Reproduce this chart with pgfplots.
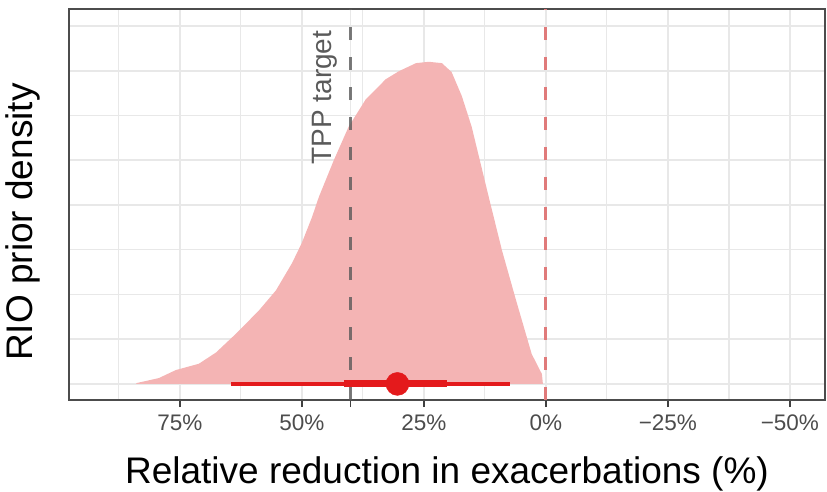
\documentclass[border=0pt]{standalone}
\usepackage{pgfplots}
\pgfplotsset{compat=1.18}
\usepackage{fontspec}
\setmainfont{Liberation Sans}
\definecolor{densfill}{HTML}{F4B4B4}
\definecolor{intred}{HTML}{E41A1C}
\definecolor{zeroline}{HTML}{E07A7A}
\definecolor{gridc}{HTML}{E8E8E8}
\definecolor{tpptext}{HTML}{5A5A5A}
\begin{document}
\begin{tikzpicture}
\begin{axis}[
  scale only axis, width=756pt, height=391pt,
  x dir=reverse,
  xmin=-57.2, xmax=97.7, ymin=-0.36, ymax=8.38,
  axis line style={draw=black!70, line width=1.5pt},
  tick pos=left,
  xtick={-50,-25,0,25,40,50,75},
  xticklabels={−50\%,−25\%,0\%,25\%,{},50\%,75\%},
  minor xtick={-37.5,-12.5,12.5,37.5,62.5,87.5},
  ytick={0,1,2,3,4,5,6,7,8}, yticklabels={},
  grid=both,
  major grid style={draw=gridc, line width=1.6pt},
  minor grid style={draw=gridc, line width=1.3pt},
  tick align=outside,
  major tick length=7pt, minor tick length=0pt,
  xtick style={draw=black!75, line width=1.5pt},
  ytick style={draw=none},
  xticklabel style={font=\fontsize{22.5}{24}\selectfont, text=black!70, inner sep=0pt, yshift=-8pt},
  xlabel={Relative reduction in exacerbations (\%)},
  xlabel style={font=\fontsize{37}{39}\selectfont, at={(axis description cs:0.5,0)}, anchor=base, yshift=-83pt, inner sep=0pt},
  ylabel={RIO prior density},
  ylabel style={font=\fontsize{37}{39}\selectfont, at={(axis description cs:-0.0476,0.455)}, anchor=base, inner sep=0pt},
]
\addplot[fill=densfill, draw=none] coordinates {
(84.0,0) (83.8,0.02) (79.3,0.13) (75.8,0.31) (71.1,0.45) (67.6,0.70) (63.5,1.12)
(58.8,1.64) (55.3,2.09) (52.0,2.70) (50.0,3.15) (47.9,3.73) (46.5,4.18)
(43.4,5.01) (40.4,5.75) (36.9,6.36) (32.8,6.81) (30.1,6.99) (26.6,7.17)
(24.0,7.20) (21.3,7.17) (19.3,6.97) (17.2,6.43) (15.2,5.75) (11.7,4.18)
(9.0,2.99) (6.1,1.87) (4.1,1.12) (2.9,0.67) (0.8,0.22) (0.6,0)
} \closedcycle;
\addplot[draw=black!65, opacity=0.8, line width=2.8pt, dash pattern=on 13pt off 17pt] coordinates {(40,-0.36) (40,8.38)};
\addplot[draw=zeroline, line width=2.8pt, dash pattern=on 13pt off 17pt] coordinates {(0,-0.36) (0,8.38)};
\addplot[draw=intred, line width=3.5pt] coordinates {(64.5,0) (7.4,0)};
\addplot[draw=intred, line width=7pt] coordinates {(41.4,0) (20.3,0)};
\addplot[only marks, mark=*, mark size=11.5pt, mark options={fill=intred, draw=intred}] coordinates {(30.4,0)};
\node[rotate=90, text=tpptext, font=\fontsize{28}{30}\selectfont, inner sep=0pt] at (axis cs:45.3,6.4) {TPP target};
\end{axis}
\pgfresetboundingbox
\path ([xshift=-69pt,yshift=-91pt]current axis.south west) rectangle ([xshift=2pt,yshift=9pt]current axis.north east);
\end{tikzpicture}
\end{document}
